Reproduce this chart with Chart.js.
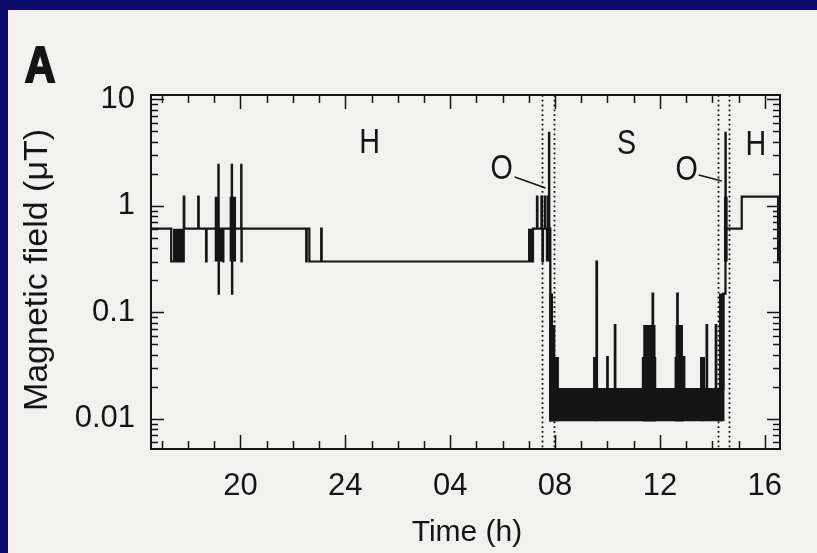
<!DOCTYPE html>
<html>
<head>
<meta charset="utf-8">
<script src="https://cdn.jsdelivr.net/npm/chart.js@4.4.1/dist/chart.umd.min.js"></script>
<style>
  html, body { margin: 0; padding: 0; background: #f1f1ef; overflow: hidden; }
  #wrap { position: relative; width: 817px; height: 553px; }
  #wrap canvas { position: absolute; left: 0; top: 0; }
  .frame { position: absolute; background: #0c0b69; }
</style>
</head>
<body>
<div id="wrap">
  <canvas id="fieldChart" width="817" height="553"></canvas>
  <div class="frame" style="left:0;top:0;width:817px;height:10px"></div>
  <div class="frame" style="left:0;top:0;width:8px;height:553px"></div>
</div>
<script>
// --- data (hours run on past midnight: 28 = 04 h, 32 = 08 h ...) ---
const traceTimes = [16.59, 17.36, 17.84, 17.86, 18.39, 18.41, 18.69, 18.71, 19.16, 19.17,
    19.18, 19.33, 19.35, 19.67, 19.68, 19.69, 20.03, 20.04, 20.05, 22.51,
    22.53, 22.63, 23.08, 23.10, 31.16, 31.31, 31.33, 31.48, 31.50, 31.52,
    31.54, 31.61, 31.63, 31.73, 31.75, 31.77, 31.78, 31.82, 33.58, 33.60,
    33.99, 34.01, 34.28, 34.30, 35.72, 35.74, 36.66, 36.68, 36.91, 36.93,
    37.78, 37.80, 38.13, 38.15, 38.42, 38.50, 38.51, 39.12, 40.58];
const traceValues = [0.61, 0.30, 1.22, 0.61, 1.22, 0.61, 0.30, 0.61, 2.43, 0.15,
    0.61, 0.30, 0.61, 2.43, 0.15, 0.61, 2.43, 0.30, 0.61, 0.30,
    0.61, 0.30, 0.61, 0.30, 0.61, 1.22, 0.61, 1.22, 0.61, 0.30,
    0.61, 1.22, 0.61, 1.22, 0.61, 4.86, 0.61, 0.019, 0.30, 0.019,
    0.038, 0.019, 0.076, 0.019, 0.15, 0.019, 0.15, 0.019, 0.038, 0.019,
    0.076, 0.019, 0.076, 0.019, 0.15, 4.86, 0.61, 1.22, 1.22];

// stretches where the reading flips fast between two levels (drawn solid)
const blockStart = [17.42, 19.01, 19.01, 19.58, 30.97, 31.64, 31.78, 31.78, 31.78, 31.78,
    31.78, 33.45, 35.30, 35.36, 36.55, 36.59, 37.53, 38.25, 38.44, 40.46];
const blockEnd = [17.84, 19.32, 19.20, 19.84, 31.16, 31.82, 31.86, 31.93, 32.02, 32.15,
    38.40, 33.64, 35.87, 35.84, 36.92, 36.88, 37.72, 38.47, 38.59, 40.58];
const blockLow = [0.30, 0.30, 0.61, 0.30, 0.30, 0.30, 0.0095, 0.0095, 0.0095, 0.0095,
    0.0095, 0.0095, 0.0095, 0.0095, 0.0095, 0.0095, 0.0095, 0.0095, 0.30, 0.30];
const blockHigh = [0.61, 0.61, 1.22, 1.22, 0.61, 0.61, 0.30, 0.15, 0.076, 0.038,
    0.019, 0.038, 0.038, 0.076, 0.038, 0.076, 0.038, 0.15, 1.22, 1.22];

const dottedTimes = [31.49, 31.97, 38.23, 38.64];

const xTickHours = [20, 24, 28, 32, 36, 40];
const xTickLabels = ['20', '24', '04', '08', '12', '16'];
const yTickValues = [0.01, 0.1, 1, 10];
const yTickLabels = ['0.01', '0.1', '1', '10'];

const annoText = ['H', 'S', 'H', 'O', 'O'];
const annoTime = [24.93, 34.73, 39.66, 29.96, 37.02];
const annoValue = [3.9, 3.8, 3.7, 2.22, 2.17];
// leader lines from each "O": [t0, v0, t1, v1]
const leaders = [[30.46, 1.87, 31.64, 1.47], [37.48, 1.95, 38.36, 1.71]];

const ink = '#151515';
const font = "'Liberation Sans', Arial, Helvetica, sans-serif";

// --- datasets ---
const datasets = [];
blockStart.forEach(function(s, i) {
    datasets.push({
        data: [{x: s, y: blockHigh[i]}, {x: blockEnd[i], y: blockHigh[i]}],
        fill: {value: blockLow[i]},
        backgroundColor: ink,
        borderWidth: 0,
        pointRadius: 0
    });
});
datasets.push({
    data: traceTimes.map((t, i) => ({x: t, y: traceValues[i]})),
    stepped: true,
    fill: false,
    borderColor: ink,
    borderWidth: 2.2,
    pointRadius: 0
});

// axes box, inward ticks, dotted separators and text
const decorations = {
    id: 'decorations',
    afterDatasetsDraw(chart) {
        const ctx = chart.ctx;
        const a = chart.chartArea;
        const x = chart.scales.x, y = chart.scales.y;
        ctx.save();
        ctx.strokeStyle = ink;

        ctx.lineWidth = 1.8;
        ctx.setLineDash([1.8, 3]);
        dottedTimes.forEach(function(t) {
            const px = Math.round(x.getPixelForValue(t)) + 0.5;
            ctx.beginPath();
            ctx.moveTo(px, a.top);
            ctx.lineTo(px, a.bottom);
            ctx.stroke();
        });
        ctx.setLineDash([]);

        ctx.lineWidth = 1.5;
        ctx.beginPath();
        for (let h = 17; h <= 40; h++) {
            const px = Math.round(x.getPixelForValue(h)) + 0.5;
            const len = (h % 4 === 0) ? 14 : 8;
            ctx.moveTo(px, a.bottom); ctx.lineTo(px, a.bottom - len);
            ctx.moveTo(px, a.top); ctx.lineTo(px, a.top + len);
        }
        for (let e = -3; e <= 1; e++) {
            for (let m = 1; m <= 9; m++) {
                const v = m * Math.pow(10, e);
                if (v < y.min || v > y.max) continue;
                const py = Math.round(y.getPixelForValue(v)) + 0.5;
                const len = (m === 1) ? 13 : 7;
                ctx.moveTo(a.left, py); ctx.lineTo(a.left + len, py);
                ctx.moveTo(a.right, py); ctx.lineTo(a.right - len, py);
            }
        }
        ctx.stroke();

        ctx.lineWidth = 2;
        ctx.strokeRect(a.left, a.top, a.right - a.left, a.bottom - a.top);

        ctx.lineWidth = 1.5;
        leaders.forEach(function(l) {
            ctx.beginPath();
            ctx.moveTo(x.getPixelForValue(l[0]), y.getPixelForValue(l[1]));
            ctx.lineTo(x.getPixelForValue(l[2]), y.getPixelForValue(l[3]));
            ctx.stroke();
        });
        ctx.restore();
    },
    afterDraw(chart) {
        const ctx = chart.ctx;
        const x = chart.scales.x, y = chart.scales.y;
        ctx.save();
        ctx.fillStyle = ink;
        ctx.strokeStyle = ink;
        ctx.textAlign = 'center';

        ctx.textBaseline = 'middle';
        ctx.font = '35px ' + font;
        annoText.forEach(function(txt, i) {
            ctx.save();
            ctx.translate(x.getPixelForValue(annoTime[i]), y.getPixelForValue(annoValue[i]));
            ctx.scale(0.82, 1);
            ctx.fillText(txt, 0, 0);
            ctx.restore();
        });

        ctx.textBaseline = 'alphabetic';
        ctx.font = '30px ' + font;
        ctx.fillText('Time (h)', 467, 541);

        ctx.save();
        ctx.translate(47, 270);
        ctx.rotate(-Math.PI / 2);
        ctx.font = '34px ' + font;
        ctx.fillText('Magnetic field (\u03bcT)', 0, 0);
        ctx.restore();

        ctx.save();
        ctx.translate(40, 82);
        ctx.scale(0.85, 1);
        ctx.font = 'bold 50px ' + font;
        ctx.lineWidth = 2;
        ctx.fillText('A', 0, 0);
        ctx.strokeText('A', 0, 0);
        ctx.restore();
        ctx.restore();
    }
};

Chart.defaults.font.family = font;
Chart.defaults.color = ink;

new Chart(document.getElementById('fieldChart'), {
    type: 'line',
    data: {datasets: datasets},
    options: {
        responsive: false,
        animation: false,
        layout: {padding: {top: 95, right: 37, left: 0, bottom: 0}},
        plugins: {legend: {display: false}, tooltip: {enabled: false}},
        scales: {
            x: {
                type: 'linear',
                min: 16.59,
                max: 40.58,
                afterBuildTicks: s => { s.ticks = xTickHours.map(v => ({value: v})); },
                afterFit: s => { s.height = 104; },
                grid: {display: false},
                border: {display: false},
                ticks: {
                    padding: 11,
                    autoSkip: false,
                    maxRotation: 0,
                    font: {size: 31},
                    color: ink,
                    callback: (v, i) => xTickLabels[i]
                }
            },
            y: {
                type: 'logarithmic',
                min: 0.0052,
                max: 11,
                afterBuildTicks: s => { s.ticks = yTickValues.map(v => ({value: v})); },
                afterFit: s => { s.width = 151; },
                grid: {display: false},
                border: {display: false},
                ticks: {
                    padding: 8,
                    autoSkip: false,
                    font: {size: 31},
                    color: ink,
                    callback: (v, i) => yTickLabels[i]
                }
            }
        }
    },
    plugins: [decorations]
});
</script>
</body>
</html>
